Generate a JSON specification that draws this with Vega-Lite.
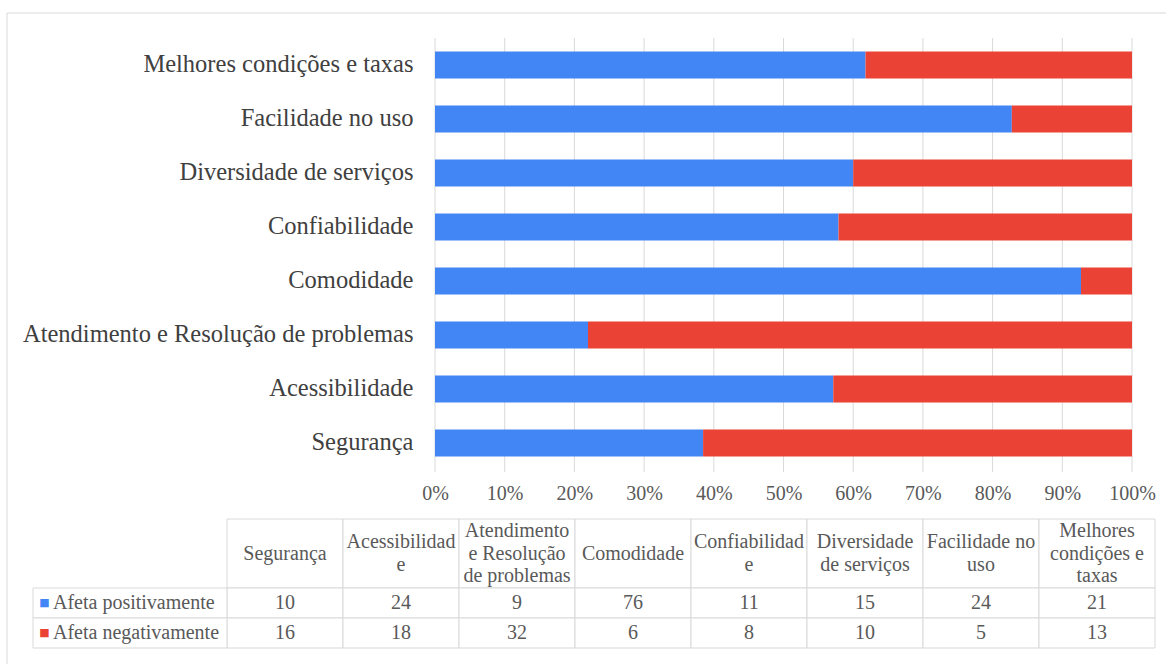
{
  "$schema": "https://vega.github.io/schema/vega-lite/v6.json",
  "width": 1166,
  "height": 664,
  "padding": 0,
  "autosize": {"type": "none"},
  "background": "white",
  "config": {"view": {"stroke": null}, "font": "Liberation Serif", "text": {"font": "Liberation Serif"}},
  "datasets": {
    "counts": [
      {"category": "Segurança", "series": "Afeta positivamente", "count": 10},
      {"category": "Segurança", "series": "Afeta negativamente", "count": 16},
      {"category": "Acessibilidade", "series": "Afeta positivamente", "count": 24},
      {"category": "Acessibilidade", "series": "Afeta negativamente", "count": 18},
      {"category": "Atendimento e Resolução de problemas", "series": "Afeta positivamente", "count": 9},
      {"category": "Atendimento e Resolução de problemas", "series": "Afeta negativamente", "count": 32},
      {"category": "Comodidade", "series": "Afeta positivamente", "count": 76},
      {"category": "Comodidade", "series": "Afeta negativamente", "count": 6},
      {"category": "Confiabilidade", "series": "Afeta positivamente", "count": 11},
      {"category": "Confiabilidade", "series": "Afeta negativamente", "count": 8},
      {"category": "Diversidade de serviços", "series": "Afeta positivamente", "count": 15},
      {"category": "Diversidade de serviços", "series": "Afeta negativamente", "count": 10},
      {"category": "Facilidade no uso", "series": "Afeta positivamente", "count": 24},
      {"category": "Facilidade no uso", "series": "Afeta negativamente", "count": 5},
      {"category": "Melhores condições e taxas", "series": "Afeta positivamente", "count": 21},
      {"category": "Melhores condições e taxas", "series": "Afeta negativamente", "count": 13}
    ],
    "headers": [
      {"category": "Segurança"},
      {"category": "Acessibilidade"},
      {"category": "Atendimento e Resolução de problemas"},
      {"category": "Comodidade"},
      {"category": "Confiabilidade"},
      {"category": "Diversidade de serviços"},
      {"category": "Facilidade no uso"},
      {"category": "Melhores condições e taxas"}
    ],
    "headerLines": [
      {"category": "Segurança", "line": "c", "text": "Segurança"},
      {"category": "Acessibilidade", "line": "b", "text": "Acessibilidad"},
      {"category": "Acessibilidade", "line": "d", "text": "e"},
      {"category": "Atendimento e Resolução de problemas", "line": "a", "text": "Atendimento"},
      {"category": "Atendimento e Resolução de problemas", "line": "c", "text": "e Resolução"},
      {"category": "Atendimento e Resolução de problemas", "line": "e", "text": "de problemas"},
      {"category": "Comodidade", "line": "c", "text": "Comodidade"},
      {"category": "Confiabilidade", "line": "b", "text": "Confiabilidad"},
      {"category": "Confiabilidade", "line": "d", "text": "e"},
      {"category": "Diversidade de serviços", "line": "b", "text": "Diversidade"},
      {"category": "Diversidade de serviços", "line": "d", "text": "de serviços"},
      {"category": "Facilidade no uso", "line": "b", "text": "Facilidade no"},
      {"category": "Facilidade no uso", "line": "d", "text": "uso"},
      {"category": "Melhores condições e taxas", "line": "a", "text": "Melhores"},
      {"category": "Melhores condições e taxas", "line": "c", "text": "condições e"},
      {"category": "Melhores condições e taxas", "line": "e", "text": "taxas"}
    ],
    "ticks": [{"t": 0}, {"t": 0.1}, {"t": 0.2}, {"t": 0.3}, {"t": 0.4}, {"t": 0.5}, {"t": 0.6}, {"t": 0.7}, {"t": 0.8}, {"t": 0.9}, {"t": 1}],
    "series": [{"series": "Afeta positivamente"}, {"series": "Afeta negativamente"}],
    "frame": [{"a": 0, "b": 1}]
  },
  "layer": [
    {
      "data": {"name": "frame"},
      "mark": {"type": "rect", "fill": "transparent", "stroke": "#d9d9d9", "strokeWidth": 1},
      "encoding": {
        "x": {"field": "a", "type": "quantitative", "scale": {"domain": [0, 1], "range": [7, 1190]}, "axis": null},
        "x2": {"field": "b"},
        "y": {"field": "a", "type": "quantitative", "scale": {"domain": [0, 1], "range": [13, 700]}, "axis": null},
        "y2": {"field": "b"}
      }
    },
    {
      "layer": [
        {
          "data": {"name": "ticks"},
          "mark": {"type": "rule", "color": "#d9d9d9", "strokeWidth": 1},
          "encoding": {
            "x": {"field": "t", "type": "quantitative", "scale": {"domain": [0, 1], "range": [435, 1132]},
                  "axis": {"orient": "bottom", "offset": -180, "values": [0, 0.1, 0.2, 0.3, 0.4, 0.5, 0.6, 0.7, 0.8, 0.9, 1], "format": ".0%", "domain": false, "ticks": false, "tickSize": 0, "grid": false, "labelPadding": 9, "labelBaseline": "middle", "labelFont": "Liberation Serif", "labelFontSize": 20, "labelColor": "#595959", "labelFlush": false, "labelOverlap": false, "title": null}},
            "y": {"datum": 0, "type": "quantitative", "scale": {"domain": [0, 1], "range": [38, 472]}, "axis": null},
            "y2": {"datum": 1}
          }
        },
        {
          "data": {"name": "counts"},
          "mark": {"type": "bar"},
          "encoding": {
            "y": {"field": "category", "type": "nominal",
                  "sort": ["Melhores condições e taxas", "Facilidade no uso", "Diversidade de serviços", "Confiabilidade", "Comodidade", "Atendimento e Resolução de problemas", "Acessibilidade", "Segurança"],
                  "scale": {"range": [38, 470], "paddingInner": 0.5, "paddingOuter": 0.25},
                  "axis": {"orient": "left", "offset": -421, "domain": false, "ticks": false, "tickSize": 0, "grid": false, "labelPadding": 8, "labelFont": "Liberation Serif", "labelFontSize": 24.5, "labelColor": "#404040", "labelLimit": 700, "title": null}},
            "x": {"field": "count", "type": "quantitative", "stack": "normalize", "scale": {"domain": [0, 1], "range": [435, 1132]},
                  "axis": {"orient": "bottom", "offset": -180, "values": [0, 0.1, 0.2, 0.3, 0.4, 0.5, 0.6, 0.7, 0.8, 0.9, 1], "format": ".0%", "domain": false, "ticks": false, "tickSize": 0, "grid": false, "labelPadding": 9, "labelBaseline": "middle", "labelFont": "Liberation Serif", "labelFontSize": 20, "labelColor": "#595959", "labelFlush": false, "labelOverlap": false, "title": null}},
            "color": {"field": "series", "type": "nominal", "scale": {"domain": ["Afeta positivamente", "Afeta negativamente"], "range": ["#4285F4", "#EA4335"]}, "legend": null},
            "order": {"field": "series", "sort": "descending"}
          }
        }
      ],
      "resolve": {"scale": {"y": "independent"}}
    },
    {
      "layer": [
        {
          "data": {"name": "headers"},
          "mark": {"type": "rect", "fill": "white", "stroke": "#d9d9d9", "strokeWidth": 1},
          "encoding": {
            "x": {"field": "category", "type": "nominal",
                  "sort": ["Segurança", "Acessibilidade", "Atendimento e Resolução de problemas", "Comodidade", "Confiabilidade", "Diversidade de serviços", "Facilidade no uso", "Melhores condições e taxas"],
                  "scale": {"type": "band", "range": [227, 1155], "paddingInner": 0, "paddingOuter": 0}, "axis": null},
            "y": {"datum": "cabeçalho", "type": "nominal", "scale": {"type": "band", "range": [519, 588], "paddingInner": 0, "paddingOuter": 0}, "axis": null}
          }
        },
        {
          "data": {"name": "headerLines"},
          "mark": {"type": "text", "fontSize": 20, "color": "#595959", "font": "Liberation Serif", "baseline": "middle"},
          "encoding": {
            "x": {"field": "category", "type": "nominal",
                  "sort": ["Segurança", "Acessibilidade", "Atendimento e Resolução de problemas", "Comodidade", "Confiabilidade", "Diversidade de serviços", "Facilidade no uso", "Melhores condições e taxas"],
                  "scale": {"type": "band", "range": [227, 1155], "paddingInner": 0, "paddingOuter": 0}, "axis": null},
            "y": {"field": "line", "type": "nominal", "sort": ["a", "b", "c", "d", "e"], "scale": {"type": "point", "range": [531, 576], "padding": 0}, "axis": null},
            "text": {"field": "text"}
          }
        }
      ],
      "resolve": {"scale": {"y": "independent"}}
    },
    {
      "data": {"name": "counts"},
      "encoding": {
        "x": {"field": "category", "type": "nominal",
              "sort": ["Segurança", "Acessibilidade", "Atendimento e Resolução de problemas", "Comodidade", "Confiabilidade", "Diversidade de serviços", "Facilidade no uso", "Melhores condições e taxas"],
              "scale": {"type": "band", "range": [227, 1155], "paddingInner": 0, "paddingOuter": 0}, "axis": null},
        "y": {"field": "series", "type": "nominal", "sort": ["Afeta positivamente", "Afeta negativamente"],
              "scale": {"type": "band", "range": [588, 648], "paddingInner": 0, "paddingOuter": 0}, "axis": null}
      },
      "layer": [
        {"mark": {"type": "rect", "fill": "white", "stroke": "#d9d9d9", "strokeWidth": 1}},
        {"mark": {"type": "text", "fontSize": 20, "color": "#595959", "font": "Liberation Serif", "baseline": "middle"},
         "encoding": {"text": {"field": "count", "type": "quantitative"}}}
      ]
    },
    {
      "data": {"name": "series"},
      "encoding": {
        "x": {"datum": "legenda", "type": "nominal", "scale": {"type": "band", "range": [33, 227], "paddingInner": 0, "paddingOuter": 0}, "axis": null},
        "y": {"field": "series", "type": "nominal", "sort": ["Afeta positivamente", "Afeta negativamente"],
              "scale": {"type": "band", "range": [588, 648], "paddingInner": 0, "paddingOuter": 0}, "axis": null}
      },
      "layer": [
        {"mark": {"type": "rect", "fill": "white", "stroke": "#d9d9d9", "strokeWidth": 1}},
        {"mark": {"type": "text", "font": "DejaVu Sans", "fontSize": 11, "align": "center", "baseline": "middle", "dx": 11.5},
         "encoding": {
           "x": {"datum": "legenda", "type": "nominal", "bandPosition": 0},
           "text": {"value": "■"},
           "color": {"field": "series", "type": "nominal", "scale": {"domain": ["Afeta positivamente", "Afeta negativamente"], "range": ["#4285F4", "#EA4335"]}, "legend": null}
         }},
        {"mark": {"type": "text", "font": "Liberation Serif", "fontSize": 20, "color": "#595959", "align": "left", "baseline": "middle", "dx": 20},
         "encoding": {
           "x": {"datum": "legenda", "type": "nominal", "bandPosition": 0},
           "text": {"field": "series"}
         }}
      ]
    }
  ],
  "resolve": {"scale": {"x": "independent", "y": "independent", "color": "independent"}}
}
